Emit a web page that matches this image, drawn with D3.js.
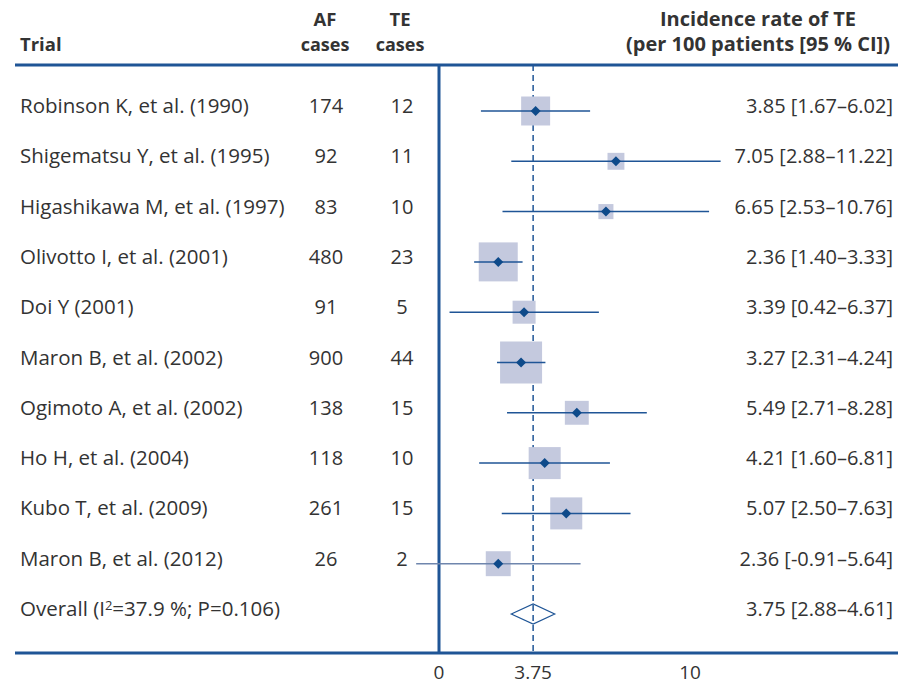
<!DOCTYPE html>
<html>
<head>
<meta charset="utf-8">
<script src="https://cdn.jsdelivr.net/npm/d3@7"></script>
<style>
  body { margin: 0; background: #fff; }
  svg text { font-family: "Open Sans", "Noto Sans", sans-serif; fill: #333; }
</style>
</head>
<body>
<svg id="chart" width="898" height="686"></svg>
<script>
// ---- data ----
const trials = [
  "Robinson K, et al. (1990)", "Shigematsu Y, et al. (1995)", "Higashikawa M, et al. (1997)",
  "Olivotto I, et al. (2001)", "Doi Y (2001)", "Maron B, et al. (2002)",
  "Ogimoto A, et al. (2002)", "Ho H, et al. (2004)", "Kubo T, et al. (2009)", "Maron B, et al. (2012)"
];
const afCases = [174, 92, 83, 480, 91, 900, 138, 118, 261, 26];
const teCases = [12, 11, 10, 23, 5, 44, 15, 10, 15, 2];
const rates   = [3.85, 7.05, 6.65, 2.36, 3.39, 3.27, 5.49, 4.21, 5.07, 2.36];
const ciLow   = [1.67, 2.88, 2.53, 1.40, 0.42, 2.31, 2.71, 1.60, 2.50, -0.91];
const ciHigh  = [6.02, 11.22, 10.76, 3.33, 6.37, 4.24, 8.28, 6.81, 7.63, 5.64];
const weights = [10.0, 3.4, 2.7, 18.1, 6.3, 21.0, 6.8, 12.2, 12.2, 7.4]; // % weight (box area)
const overall = { rate: 3.75, low: 2.88, high: 4.61, i2: "37.9 %", p: "0.106" };
const xTicks = [0, 3.75, 10];

const fmt = d3.format(".2f");
// keep the hyphen-minus look of the original for negatives
const num = v => fmt(v).replace("\u2212", "-");
const ciText = (r, l, h) => `${num(r)} [${num(l)}\u2013${num(h)}]`;

const svg = d3.select("#chart");
const lineCol = "#1f5596";
const boxCol = "#c4c9de";

const x = d3.scaleLinear().domain([0, 10]).range([439, 690]);
const rowKeys = trials.concat(["Overall"]);
const y = d3.scalePoint().domain(rowKeys).range([111, 614]);
const box = d3.scaleSqrt().domain([0, 21]).range([0, 42]);

const yTop = 65, yBottom = 653;
const txtOff = 2; // baseline below row centre

// headers
const head = svg.append("g").style("font-weight", "bold");
head.append("text").attr("x", 20).attr("y", 51).style("font-size", "18.5px").text("Trial");
head.append("text").attr("x", 325).attr("y", 26).attr("text-anchor", "middle").style("font-size", "18.5px").text("AF");
head.append("text").attr("x", 325).attr("y", 51).attr("text-anchor", "middle").style("font-size", "18px").text("cases");
head.append("text").attr("x", 400).attr("y", 26).attr("text-anchor", "middle").style("font-size", "18.5px").text("TE");
head.append("text").attr("x", 400).attr("y", 51).attr("text-anchor", "middle").style("font-size", "18px").text("cases");
head.append("text").attr("x", 758).attr("y", 26).attr("text-anchor", "middle").style("font-size", "20px").text("Incidence rate of TE");
head.append("text").attr("x", 758).attr("y", 51).attr("text-anchor", "middle").style("font-size", "20px").text("(per 100 patients [95 % CI])");

// frame lines
svg.append("line").attr("x1", 15).attr("x2", 898).attr("y1", yTop).attr("y2", yTop)
  .attr("stroke", lineCol).attr("stroke-width", 3);
svg.append("line").attr("x1", 15).attr("x2", 898).attr("y1", yBottom).attr("y2", yBottom)
  .attr("stroke", lineCol).attr("stroke-width", 3);
svg.append("line").attr("x1", x(0)).attr("x2", x(0)).attr("y1", yTop).attr("y2", yBottom)
  .attr("stroke", lineCol).attr("stroke-width", 3);
svg.append("line").attr("x1", x(overall.rate)).attr("x2", x(overall.rate)).attr("y1", yTop).attr("y2", yBottom)
  .attr("stroke", lineCol).attr("stroke-width", 1.5).attr("stroke-dasharray", "6,4");

// rows
const rows = svg.append("g").selectAll("g").data(trials).join("g")
  .attr("transform", d => `translate(0,${y(d)})`);

rows.append("text").attr("x", 20).attr("y", txtOff).style("font-size", "20.5px").text(d => d);
rows.append("text").attr("x", 326).attr("y", txtOff).attr("text-anchor", "middle")
  .style("font-size", "20px").text((d, i) => afCases[i]);
rows.append("text").attr("x", 402).attr("y", txtOff).attr("text-anchor", "middle")
  .style("font-size", "20px").text((d, i) => teCases[i]);
rows.append("text").attr("x", 893).attr("y", txtOff).attr("text-anchor", "end")
  .style("font-size", "20px").text((d, i) => ciText(rates[i], ciLow[i], ciHigh[i]));

rows.append("rect")
  .attr("x", (d, i) => x(rates[i]) - box(weights[i]) / 2)
  .attr("y", (d, i) => -box(weights[i]) / 2)
  .attr("width", (d, i) => box(weights[i]))
  .attr("height", (d, i) => box(weights[i]))
  .attr("fill", boxCol);
rows.append("line")
  .attr("x1", (d, i) => x(ciLow[i])).attr("x2", (d, i) => x(ciHigh[i]))
  .attr("stroke", (d, i) => ciLow[i] < 0 ? "#6f86ad" : lineCol).attr("stroke-width", 1.5);
rows.append("path")
  .attr("d", (d, i) => { const cx = x(rates[i]); return `M${cx - 5},0L${cx},-5L${cx + 5},0L${cx},5Z`; })
  .attr("fill", "#0e4a8a");

// overall row
const ov = svg.append("g").attr("transform", `translate(0,${y("Overall")})`);
const ovText = ov.append("text").attr("x", 20).attr("y", txtOff).style("font-size", "20.5px");
ovText.append("tspan").text("Overall (I");
ovText.append("tspan").attr("dy", "-0.45em").style("font-size", "13px").text("2");
ovText.append("tspan").attr("dy", "0.29em").text(`=${overall.i2}; P=${overall.p})`);
ov.append("text").attr("x", 893).attr("y", txtOff).attr("text-anchor", "end")
  .style("font-size", "20px").text(ciText(overall.rate, overall.low, overall.high));
ov.append("path")
  .attr("d", `M${x(overall.low)},0L${x(overall.rate)},-10L${x(overall.high)},0L${x(overall.rate)},10Z`)
  .attr("fill", "none").attr("stroke", lineCol).attr("stroke-width", 1.2);

// axis tick labels
svg.append("g").selectAll("text").data(xTicks).join("text")
  .attr("x", d => x(d)).attr("y", 679).attr("text-anchor", "middle")
  .style("font-size", "19px").text(d => d);
</script>
</body>
</html>
